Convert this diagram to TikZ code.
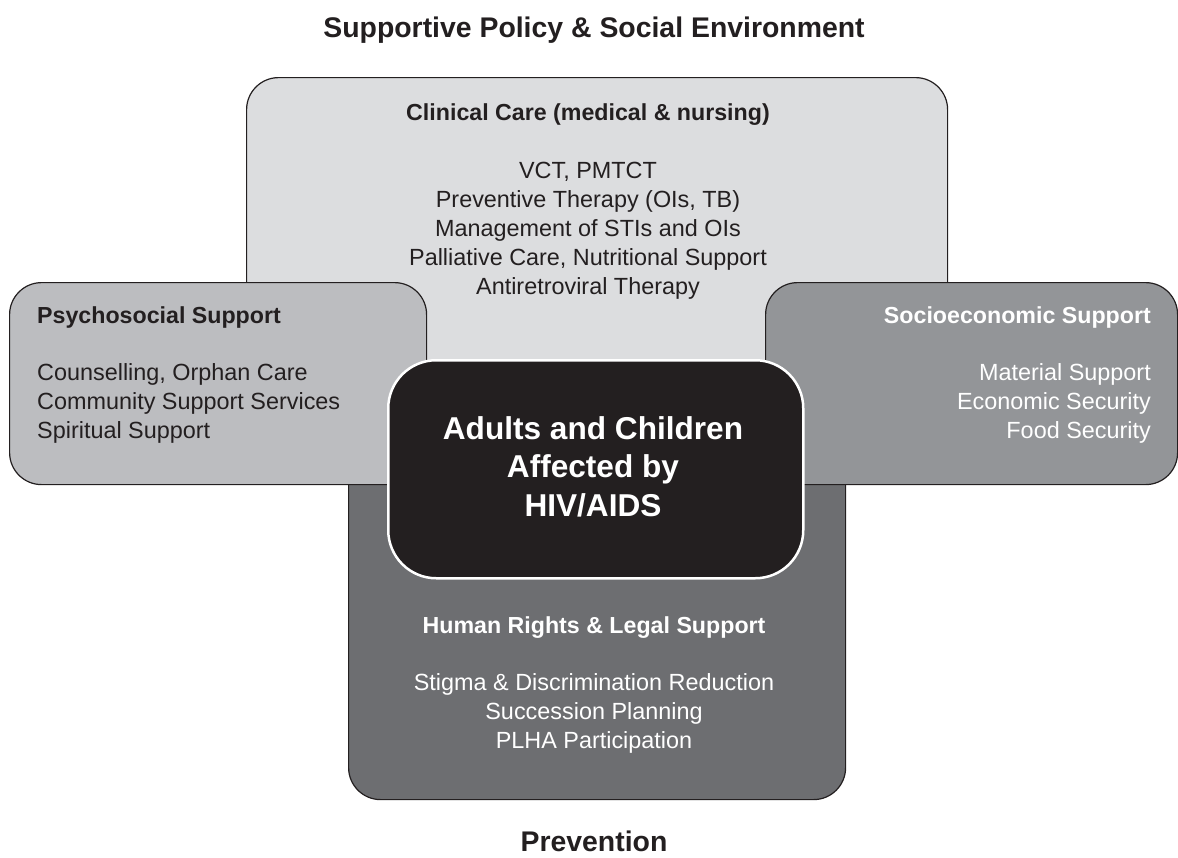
\documentclass[tikz,border=0pt]{standalone}
\usepackage{fontspec}
\setmainfont{Liberation Sans}
\definecolor{ink}{HTML}{231F20}
\definecolor{clin}{HTML}{DCDDDF}
\definecolor{psy}{HTML}{BCBDC0}
\definecolor{soc}{HTML}{939598}
\definecolor{hr}{HTML}{6D6E71}
\begin{document}
\begin{tikzpicture}[x=1pt,y=-1pt,
  panel/.style={draw=ink, line width=1.2pt, rounded corners=32pt, inner sep=0pt, anchor=north west},
  body/.style={font=\fontsize{23.4}{29}\selectfont, inner sep=0pt},
  head/.style={font=\fontsize{23.2}{29}\selectfont\bfseries, inner sep=0pt},
  big/.style={font=\fontsize{28.4}{34}\selectfont\bfseries, inner sep=0pt, text=ink, anchor=base},
  corefont/.style={font=\fontsize{31.6}{38.5}\selectfont\bfseries, inner sep=0pt, text=white, align=center, anchor=base}]
\useasboundingbox (0,0) rectangle (1178,857);
% panels
\node[panel, fill=clin, minimum width=701pt, minimum height=363pt] (clin) at (246,77) {};
\node[panel, fill=hr, minimum width=497pt, minimum height=399pt] (hrbox) at (348,400) {};
\node[panel, fill=psy, minimum width=417pt, minimum height=202pt] (psybox) at (9,282) {};
\node[panel, fill=soc, minimum width=412pt, minimum height=202pt] (socbox) at (765,282) {};
\node[draw=white, line width=2.5pt, fill=ink, rounded corners=48pt, inner sep=0pt, anchor=north west,
      minimum width=415pt, minimum height=218pt] (core) at (387,359) {};
% titles
\node[big] (top) at (594,37) {Supportive Policy \& Social Environment};
\node[big] (bottom) at (594,851) {Prevention};
% clinical (base anchor = last line)
\node[head, text=ink, anchor=base] (clinh) at (588,120) {Clinical Care (medical \& nursing)};
\node[body, text=ink, align=center, anchor=base] (clinb) at (588,294)
  {VCT, PMTCT\\Preventive Therapy (OIs, TB)\\Management of STIs and OIs\\Palliative Care, Nutritional Support\\Antiretroviral Therapy};
% psychosocial
\node[head, text=ink, anchor=base west] (psyh) at (37,323) {Psychosocial Support};
\node[body, text=ink, align=left, anchor=base west] (psyb) at (37,438)
  {Counselling, Orphan Care\\Community Support Services\\Spiritual Support};
% socioeconomic
\node[head, text=white, anchor=base east] (soch) at (1151,323) {Socioeconomic Support};
\node[body, text=white, align=right, anchor=base east] (socb) at (1151,438)
  {Material Support\\Economic Security\\Food Security};
% core
\node[corefont] (coret) at (593,516) {Adults and Children\\Affected by\\HIV/AIDS};
% human rights
\node[head, text=white, anchor=base] (hrh) at (594,633) {Human Rights \& Legal Support};
\node[body, text=white, align=center, anchor=base] (hrb) at (594,748)
  {Stigma \& Discrimination Reduction\\Succession Planning\\PLHA Participation};
\end{tikzpicture}
\end{document}
